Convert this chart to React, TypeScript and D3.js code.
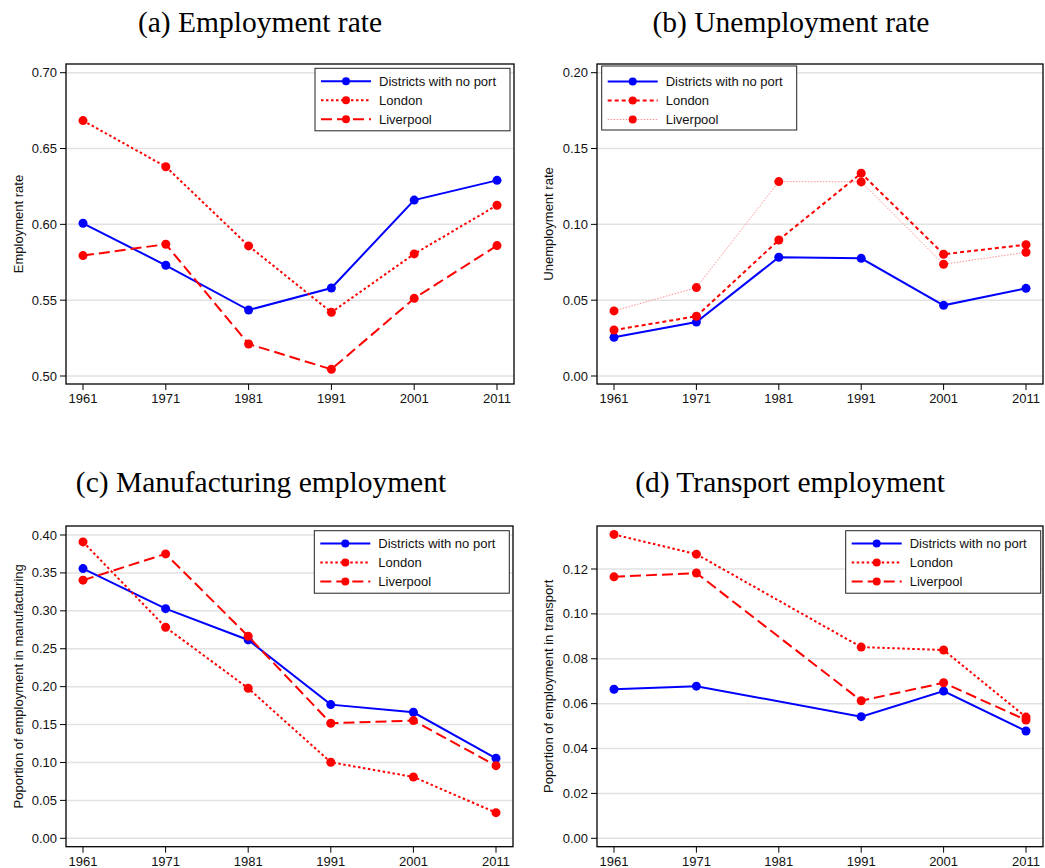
import React from "react";
import { scaleLinear, line } from "d3";

// four panels of census outcomes, 1961-2011
const years = [1961, 1971, 1981, 1991, 2001, 2011];
const seriesNames = ["Districts with no port", "London", "Liverpool"];

const empNoPort = [0.6007, 0.573, 0.5435, 0.558, 0.616, 0.629];
const empLondon = [0.6684, 0.638, 0.5858, 0.542, 0.5805, 0.6126];
const empLiverpool = [0.5794, 0.5869, 0.5211, 0.5044, 0.5512, 0.586];

const unempNoPort = [0.0255, 0.0356, 0.0783, 0.0776, 0.0466, 0.0578];
const unempLondon = [0.0303, 0.0394, 0.0897, 0.1337, 0.0803, 0.0866];
const unempLiverpool = [0.0429, 0.0583, 0.1282, 0.128, 0.0737, 0.0816];

const manufNoPort = [0.3557, 0.3029, 0.2616, 0.1763, 0.1662, 0.1055];
const manufLondon = [0.3909, 0.2783, 0.1979, 0.1003, 0.0809, 0.0338];
const manufLiverpool = [0.3404, 0.3751, 0.2665, 0.1517, 0.1552, 0.0958];

// no transport figures for 1981
const transNoPort = [0.0664, 0.0678, null, 0.0542, 0.0656, 0.0478];
const transLondon = [0.1354, 0.1266, null, 0.0852, 0.0839, 0.054];
const transLiverpool = [0.1165, 0.1182, null, 0.0613, 0.0693, 0.0527];

const ticksA = [0.5, 0.55, 0.6, 0.65, 0.7];
const ticksB = [0, 0.05, 0.1, 0.15, 0.2];
const ticksC = [0, 0.05, 0.1, 0.15, 0.2, 0.25, 0.3, 0.35, 0.4];
const ticksD = [0, 0.02, 0.04, 0.06, 0.08, 0.1, 0.12];

const BLUE = "#0000ff";
const RED = "#ff0000";
const SANS = "'Liberation Sans', Arial, Helvetica, sans-serif";
const SERIF = "'Liberation Serif', 'Times New Roman', serif";

const styleMain = [
  { color: BLUE, width: 2, dash: undefined, mark: BLUE },
  { color: RED, width: 2, dash: "2.5,2.5", mark: RED },
  { color: RED, width: 2, dash: "11,5", mark: RED },
];
const styleUnemp = [
  { color: BLUE, width: 2, dash: undefined, mark: BLUE },
  { color: RED, width: 2, dash: "4,3", mark: RED },
  { color: "#ff9090", width: 1, dash: "1.5,1.5", mark: RED },
];

const panels = [
  {
    title: "(a) Employment rate", titleX: 260, titleY: 32,
    box: { l: 66, t: 64, r: 514, b: 384 },
    yDomain: [0.5, 0.7], yRange: [376, 72.7], ticks: ticksA,
    yLabel: "Employment rate", labelX: 18,
    data: [empNoPort, empLondon, empLiverpool], styles: styleMain,
    legend: { x: 315, y: 68.3, h: 62.5, top: 13 },
  },
  {
    title: "(b) Unemployment rate", titleX: 791, titleY: 32,
    box: { l: 597, t: 64, r: 1043, b: 384 },
    yDomain: [0, 0.2], yRange: [376, 72.7], ticks: ticksB,
    yLabel: "Unemployment rate", labelX: 548,
    data: [unempNoPort, unempLondon, unempLiverpool], styles: styleUnemp,
    legend: { x: 601.7, y: 66, h: 64, top: 15.5 },
  },
  {
    title: "(c) Manufacturing employment", titleX: 261, titleY: 492,
    box: { l: 66, t: 526, r: 513, b: 846.7 },
    yDomain: [0, 0.4], yRange: [838.3, 535], ticks: ticksC,
    yLabel: "Poportion of employment in manufacturing", labelX: 18,
    data: [manufNoPort, manufLondon, manufLiverpool], styles: styleMain,
    legend: { x: 314.3, y: 530.7, h: 62.5, top: 12.8 },
  },
  {
    title: "(d) Transport employment", titleX: 790, titleY: 492,
    box: { l: 597, t: 526, r: 1043, b: 846.7 },
    yDomain: [0, 0.12], yRange: [838.3, 569], ticks: ticksD,
    yLabel: "Poportion of employment in transport", labelX: 548,
    data: [transNoPort, transLondon, transLiverpool], styles: styleMain,
    legend: { x: 845.7, y: 530.7, h: 62.5, top: 12.8 },
  },
];

function Panel({ p }) {
  const { box } = p;
  const x = scaleLinear().domain([1961, 2011]).range([box.l + 17, box.r - 17]);
  const y = scaleLinear().domain(p.yDomain).range(p.yRange);
  const lineGen = line().x((d) => x(d[0])).y((d) => y(d[1]));
  const midY = (box.t + box.b) / 2;
  const lg = p.legend;

  return (
    <g>
      <text x={p.titleX} y={p.titleY} textAnchor="middle" fontFamily={SERIF} fontSize={29.5} fill="#000">
        {p.title}
      </text>
      {p.ticks.map((t) => (
        <g key={t}>
          <line x1={box.l} x2={box.r} y1={y(t)} y2={y(t)} stroke="#e2e2e2" strokeWidth={1.5} />
          <line x1={box.l - 6} x2={box.l} y1={y(t)} y2={y(t)} stroke="#000" strokeWidth={1} />
          <text x={box.l - 9} y={y(t)} dy="0.35em" textAnchor="end" fontFamily={SANS} fontSize={13} fill="#111">
            {t.toFixed(2)}
          </text>
        </g>
      ))}
      {years.map((yr) => (
        <g key={yr}>
          <line x1={x(yr)} x2={x(yr)} y1={box.b} y2={box.b + 6} stroke="#000" strokeWidth={1} />
          <text x={x(yr)} y={box.b + 19} textAnchor="middle" fontFamily={SANS} fontSize={13} fill="#111">
            {yr}
          </text>
        </g>
      ))}
      <text
        transform={`translate(${p.labelX},${midY}) rotate(-90)`}
        textAnchor="middle" dy="0.35em" fontFamily={SANS} fontSize={13} fill="#111"
      >
        {p.yLabel}
      </text>
      {p.data.map((vals, i) => {
        const pts = years.map((yr, j) => [yr, vals[j]]).filter((d) => d[1] != null);
        const s = p.styles[i];
        return (
          <g key={i}>
            <path d={lineGen(pts)} fill="none" stroke={s.color} strokeWidth={s.width} strokeDasharray={s.dash} />
            {pts.map((d) => (
              <circle key={d[0]} cx={x(d[0])} cy={y(d[1])} r={4.5} fill={s.mark} />
            ))}
          </g>
        );
      })}
      <rect x={box.l} y={box.t} width={box.r - box.l} height={box.b - box.t} fill="none" stroke="#000" strokeWidth={1.3} />
      <g transform={`translate(${lg.x},${lg.y})`}>
        <rect x={0} y={0} width={195} height={lg.h} fill="#fff" stroke="#222" strokeWidth={1} />
        {seriesNames.map((name, i) => {
          const s = p.styles[i];
          const ry = lg.top + i * 19;
          return (
            <g key={name}>
              <line x1={6} x2={56} y1={ry} y2={ry} stroke={s.color} strokeWidth={s.width} strokeDasharray={s.dash} />
              <circle cx={31} cy={ry} r={4} fill={s.mark} />
              <text x={64} y={ry} dy="0.35em" fontFamily={SANS} fontSize={13} fill="#111">
                {name}
              </text>
            </g>
          );
        })}
      </g>
    </g>
  );
}

export default function App() {
  return (
    <svg width={1045} height={868} style={{ position: "absolute", left: 0, top: 0, background: "#fff" }}>
      <rect width={1045} height={868} fill="#fff" />
      {panels.map((p) => (
        <Panel key={p.title} p={p} />
      ))}
    </svg>
  );
}
